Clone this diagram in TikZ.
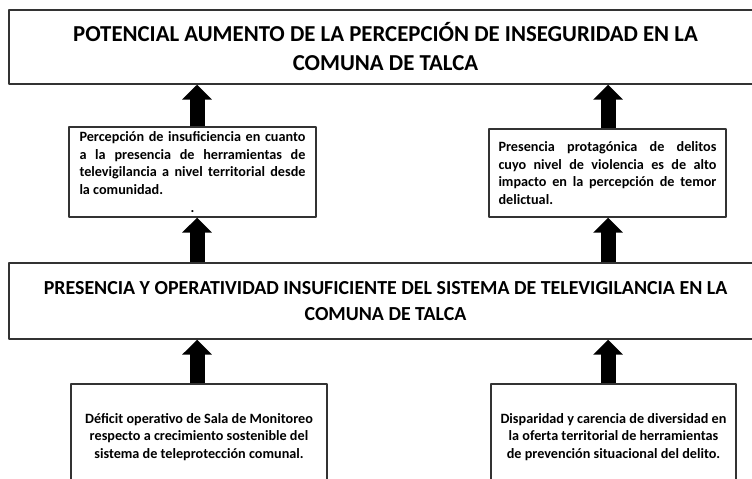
\documentclass[tikz,border=0pt]{standalone}
\usepackage{fontspec}
\setmainfont{Carlito}
\usetikzlibrary{arrows.meta}
\newcommand{\justline}[2]{\makebox[#1][s]{\spaceskip=0pt\xspaceskip=0pt #2}}
\begin{document}
\begin{tikzpicture}[x=1pt,y=-1pt,line join=round,font=\bfseries,
  box/.style={draw=black!80,line width=1.4pt,inner sep=0pt,fill=white},
  bigtext/.style={font=\bfseries\fontsize{22.8}{29}\selectfont,align=flush center},
  midtext/.style={font=\bfseries\fontsize{19.9}{25.5}\selectfont,align=flush center},
  smalltext/.style={font=\bfseries\fontsize{14.2}{17.8}\selectfont},
  upArrow/.style={line width=15pt,-{Triangle[width=29pt,length=15pt]}}]
\useasboundingbox (0,0) rectangle (752,479);
\clip (0,0) rectangle (752,479);
\coordinate (colL) at (197,0);
\coordinate (colR) at (608,0);
% effect
\node[box,bigtext,minimum width=753pt,minimum height=74pt] (effect) at (385.5,47)
  {POTENCIAL AUMENTO DE LA PERCEPCIÓN DE INSEGURIDAD EN LA\\COMUNA DE TALCA};
% consequences
\node[box,smalltext,minimum width=247pt,minimum height=90pt,align=flush left,text width=226pt] (consL) at (192.5,172)
  {\justline{226pt}{Percepción de insuficiencia en cuanto}\\
   \justline{226pt}{a la presencia de herramientas de}\\
   \justline{226pt}{televigilancia a nivel territorial desde}\\
   la comunidad.\\
   \makebox[226pt]{.}};
\node[box,smalltext,minimum width=237pt,minimum height=88pt,align=flush left,text width=218pt] (consR) at (607.5,173)
  {\justline{218pt}{Presencia protagónica de delitos}\\
   \justline{218pt}{cuyo nivel de violencia es de alto}\\
   \justline{218pt}{impacto en la percepción de temor}\\
   delictual.};
% central problem
\node[box,midtext,minimum width=753pt,minimum height=76pt] (problem) at (385.5,301)
  {PRESENCIA Y OPERATIVIDAD INSUFICIENTE DEL SISTEMA DE TELEVIGILANCIA EN LA\\COMUNA DE TALCA};
% causes
\node[box,smalltext,minimum width=256pt,minimum height=106pt,align=flush center] (causeL) at (199,437)
  {Déficit operativo de Sala de Monitoreo\\respecto a crecimiento sostenible del\\sistema de teleprotección comunal.};
\node[box,smalltext,minimum width=245pt,minimum height=106pt,align=flush center] (causeR) at (613.5,437)
  {Disparidad y carencia de diversidad en\\la oferta territorial de herramientas\\de prevención situacional del delito.};
% arrows
\draw[upArrow] (consL.north -| colL) -- (effect.south -| colL);
\draw[upArrow] (consR.north -| colR) -- (effect.south -| colR);
\draw[upArrow] (problem.north -| colL) -- (consL.south -| colL);
\draw[upArrow] (problem.north -| colR) -- (consR.south -| colR);
\draw[upArrow] (causeL.north -| colL) -- (problem.south -| colL);
\draw[upArrow] (causeR.north -| colR) -- (problem.south -| colR);
\end{tikzpicture}
\end{document}
